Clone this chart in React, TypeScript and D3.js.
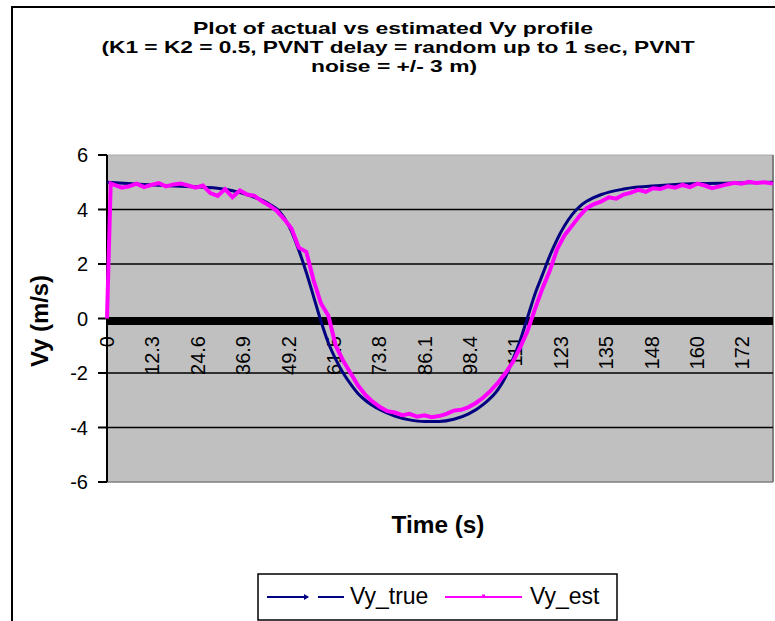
import React from "react";
import * as d3 from "d3";

const titleLines = [
  "Plot of actual vs estimated Vy profile",
  "(K1 = K2 = 0.5, PVNT delay = random up to 1 sec, PVNT",
  "noise = +/- 3 m)",
];
const yTicks = [6, 4, 2, 0, -2, -4, -6];
const xTickValues = [0, 12.3, 24.6, 36.9, 49.2, 61.5, 73.8, 86.1, 98.4, 110.7, 123, 135.3, 147.6, 159.9, 172.2];
const xTickLabels = ["0", "12.3", "24.6", "36.9", "49.2", "61.5", "73.8", "86.1", "98.4", "111", "123", "135", "148", "160", "172"];

const trueTime = [0, 10, 20, 30, 36, 40, 44, 46, 48, 50, 52, 54, 56, 58, 60, 62, 64, 66, 68, 70, 74, 78, 82, 86, 90, 94, 98, 102, 106, 108, 110, 112, 114, 116, 118, 120, 122, 124, 126, 128, 130, 134, 140, 150, 160, 170, 180.5];
const trueVel = [5.0, 4.92, 4.85, 4.78, 4.62, 4.45, 4.2, 4.02, 3.7, 3.2, 2.5, 1.7, 0.8, -0.1, -0.9, -1.5, -2.0, -2.4, -2.75, -3.0, -3.35, -3.58, -3.72, -3.78, -3.78, -3.7, -3.5, -3.15, -2.6, -2.15, -1.5, -0.8, 0.05, 0.9, 1.6, 2.3, 2.9, 3.4, 3.8, 4.1, 4.3, 4.55, 4.75, 4.88, 4.95, 4.97, 5.0];

const estTime = [0, 1, 2, 4, 6, 8, 10, 12, 14, 16, 18, 20, 22, 24, 26, 28, 30, 32, 34, 36, 38, 40, 42, 44, 46, 48, 50, 52, 54, 56, 58, 60, 62, 64, 66, 68, 70, 72, 74, 76, 78, 80, 82, 84, 86, 88, 90, 92, 94, 96, 98, 100, 102, 104, 106, 108, 110, 112, 114, 116, 118, 120, 122, 124, 126, 128, 130, 132, 134, 136, 138, 140, 142, 144, 146, 148, 150, 152, 154, 156, 158, 160, 162, 164, 166, 168, 170, 172, 174, 176, 178, 180.5];
const estVel = [0, 4.95, 4.9, 4.8, 4.85, 4.95, 4.82, 4.9, 4.97, 4.85, 4.92, 4.95, 4.88, 4.8, 4.88, 4.6, 4.5, 4.75, 4.45, 4.7, 4.55, 4.5, 4.3, 4.15, 3.95, 3.65, 3.3, 2.6, 2.45, 1.4, 0.55, 0.1, -1.0, -1.55, -2.0, -2.45, -2.8, -3.05, -3.25, -3.4, -3.45, -3.55, -3.5, -3.6, -3.55, -3.62, -3.58, -3.5, -3.38, -3.35, -3.25, -3.1, -2.9, -2.65, -2.35, -2.0, -1.6, -1.05, -0.45, 0.35, 1.1, 1.75, 2.55, 3.05, 3.4, 3.75, 4.05, 4.2, 4.3, 4.45, 4.4, 4.55, 4.62, 4.72, 4.65, 4.78, 4.75, 4.85, 4.8, 4.9, 4.82, 4.95, 4.88, 4.78, 4.85, 4.92, 4.98, 4.95, 5.02, 4.97, 5.0, 4.95];

const seriesNames = ["Vy_true", "Vy_est"];
const seriesColors = ["#000080", "#FF00FF"];

export default function App() {
  const W = 775, H = 621;
  const left = 107, right = 773, top = 155, bottom = 482;
  const x = d3.scaleLinear().domain([0, 180.5]).range([left, right]);
  const y = d3.scaleLinear().domain([-6, 6]).range([bottom, top]);

  const trueData = trueTime.map((t, i) => [t, trueVel[i]] as [number, number]);
  const estData = estTime.map((t, i) => [t, estVel[i]] as [number, number]);

  const trueLine = d3.line<[number, number]>().x(d => x(d[0])).y(d => y(d[1])).curve(d3.curveMonotoneX);
  const estLine = d3.line<[number, number]>().x(d => x(d[0])).y(d => y(d[1]));

  const font = "'Liberation Sans', Arial, sans-serif";
  const titleWidths = [400, 593, 166];
  const titleCenters = [393, 398, 394];
  const titleBase = [34, 53, 72];

  return (
    <svg width={W} height={H} style={{ position: "absolute", left: 0, top: 0, background: "#fff" }} fontFamily={font}>
      <rect x={0} y={0} width={W} height={H} fill="#fff" />
      <rect x={12} y={7} width={780} height={700} fill="none" stroke="#000" strokeWidth={2} />
      {titleLines.map((s, i) => (
        <text key={i} x={titleCenters[i]} y={titleBase[i]} textAnchor="middle" fontWeight="bold" fontSize={17}
          textLength={titleWidths[i]} lengthAdjust="spacingAndGlyphs">{s}</text>
      ))}
      <rect x={left} y={top} width={right - left} height={bottom - top} fill="#C0C0C0" />
      <line x1={left} x2={right} y1={top} y2={top} stroke="#A8A8A8" strokeWidth={1} />
      <line x1={left} x2={right} y1={bottom} y2={bottom} stroke="#808080" strokeWidth={1.5} />
      <line x1={right} x2={right} y1={top} y2={bottom} stroke="#808080" strokeWidth={2} />
      {yTicks.filter(v => v !== 6 && v !== -6 && v !== 0).map(v => (
        <line key={v} x1={left} x2={right} y1={y(v)} y2={y(v)} stroke="#000" strokeWidth={1.5} />
      ))}
      <rect x={left} y={y(0) - 1.5} width={right - left} height={8} fill="#000" />
      <line x1={left} x2={left} y1={top} y2={bottom} stroke="#000" strokeWidth={2} />
      {yTicks.map(v => (
        <g key={v}>
          <line x1={left - 9} x2={left} y1={y(v)} y2={y(v)} stroke="#000" strokeWidth={2} />
          <text x={88} y={y(v)} dy="0.35em" textAnchor="end" fontSize={20}>{v}</text>
        </g>
      ))}
      {xTickValues.map((t, i) => (
        <text key={i} transform={`translate(${x(t)},336) rotate(-90)`} dy="0.35em" textAnchor="end" fontSize={20}>
          {xTickLabels[i]}
        </text>
      ))}
      <path d={trueLine(trueData) || ""} fill="none" stroke={seriesColors[0]} strokeWidth={3} />
      <path d={estLine(estData) || ""} fill="none" stroke={seriesColors[1]} strokeWidth={4} strokeLinejoin="miter" />
      <text transform="translate(48,321) rotate(-90)" textAnchor="middle" fontWeight="bold" fontSize={23}
        textLength={92} lengthAdjust="spacingAndGlyphs">Vy (m/s)</text>
      <text x={438} y={533} textAnchor="middle" fontWeight="bold" fontSize={23}
        textLength={93} lengthAdjust="spacingAndGlyphs">Time (s)</text>
      <rect x={258} y={574} width={359} height={46} fill="#fff" stroke="#000" strokeWidth={1.5} />
      <line x1={267} x2={308} y1={597} y2={597} stroke={seriesColors[0]} strokeWidth={2} />
      <path d="M304,594 L309,597 L304,600 Z" fill={seriesColors[0]} />
      <line x1={318} x2={344} y1={597} y2={597} stroke={seriesColors[0]} strokeWidth={2} />
      <text x={350} y={604} fontSize={23}>{seriesNames[0]}</text>
      <line x1={445} x2={522} y1={597} y2={597} stroke={seriesColors[1]} strokeWidth={2} />
      <rect x={482} y={594.5} width={3} height={3} fill={seriesColors[1]} />
      <text x={530} y={604} fontSize={23}>{seriesNames[1]}</text>
    </svg>
  );
}
